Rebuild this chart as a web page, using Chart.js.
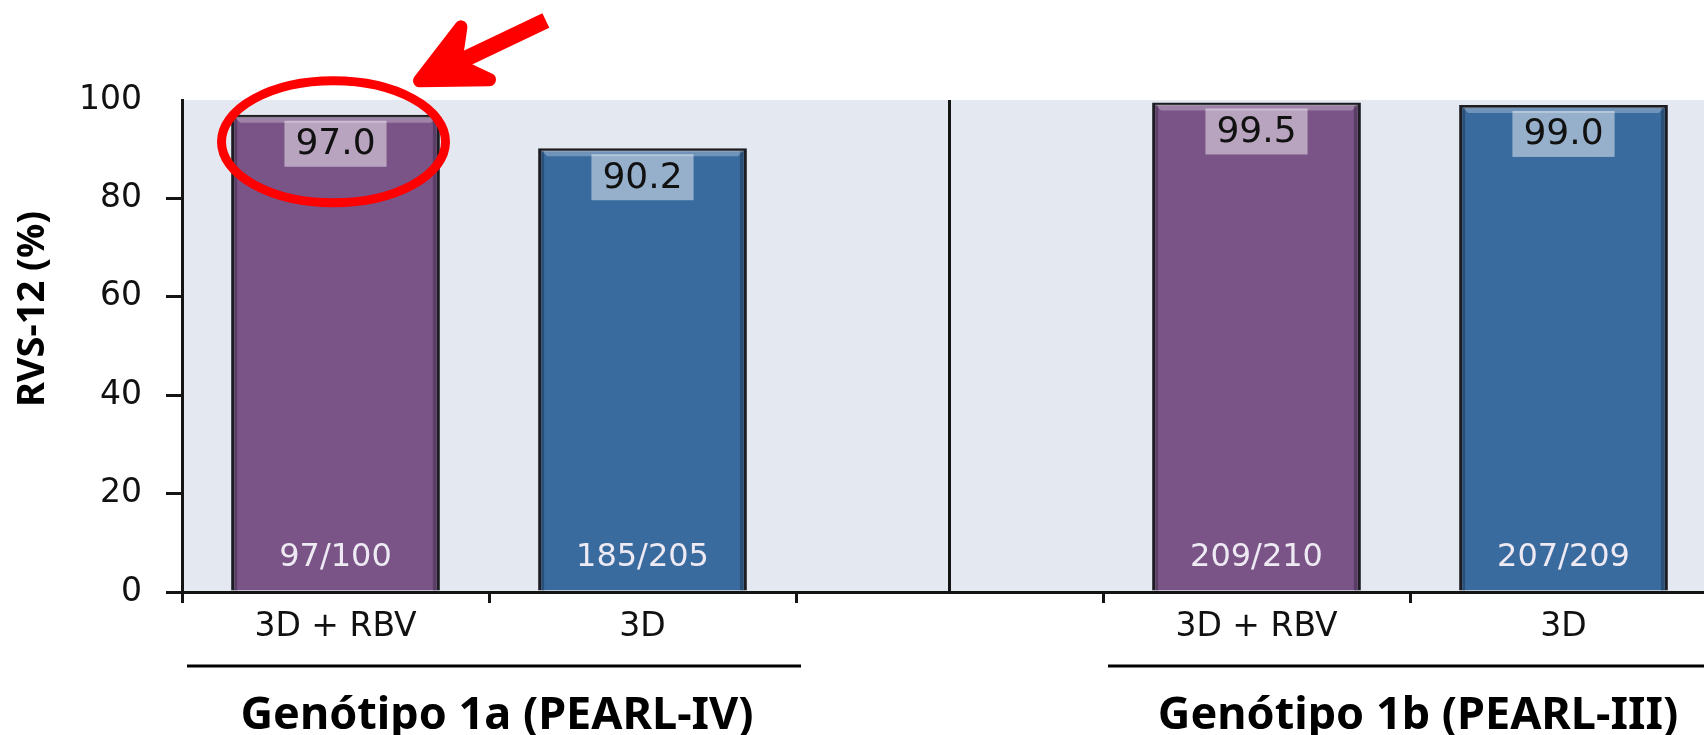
<!DOCTYPE html>
<html>
<head>
<meta charset="utf-8">
<script src="https://cdn.jsdelivr.net/npm/chart.js@4.4.1/dist/chart.umd.min.js"></script>
<style>
  html, body { margin: 0; padding: 0; background: #fff; overflow: hidden; }
  #wrap { width: 1718px; height: 735px; }
</style>
</head>
<body>
<div id="wrap"><canvas id="chart" width="1718" height="735"></canvas></div>
<script>
// --- data ---
const categories = ['3D + RBV', '3D', '', '3D + RBV', '3D'];
const rvsValues = [97.0, 90.2, null, 99.5, 99.0];
const patientCounts = ['97/100', '185/205', '', '209/210', '207/209'];
const barColors = ['#7a5387', '#3a6b9f', '#7a5387', '#7a5387', '#3a6b9f'];
const groupLabels = ['Genótipo 1a (PEARL-IV)', 'Genótipo 1b (PEARL-III)'];
const groupSpans = [[0, 1], [3, 4]];
const yTitle = 'RVS-12 (%)';

const INK = '#141414';

// background, labels, divider and the red marks
const decor = {
  id: 'decor',
  beforeDraw(chart) {
    const { ctx, chartArea: a } = chart;
    ctx.save();
    ctx.fillStyle = '#e4e8f0';
    ctx.fillRect(a.left, a.top, a.right - a.left, a.bottom - a.top);
    // divider in the empty slot
    const x = chart.scales.x.getPixelForValue(2);
    ctx.strokeStyle = INK;
    ctx.lineWidth = 3;
    ctx.beginPath();
    ctx.moveTo(x, a.top);
    ctx.lineTo(x, a.bottom);
    ctx.stroke();
    ctx.restore();
  },
  afterDatasetsDraw(chart) {
    const { ctx, chartArea: a } = chart;
    const bars = chart.getDatasetMeta(0).data;
    const xs = chart.scales.x;
    const cat = (xs.right - xs.left) / categories.length;

    ctx.save();
    bars.forEach((bar, i) => {
      if (rvsValues[i] == null) return;
      const top = Math.max(bar.y, a.top);
      const l = bar.x - bar.width / 2, r = bar.x + bar.width / 2;

      // bevel on top edge
      ctx.fillStyle = 'rgba(255,255,255,0.28)';
      ctx.beginPath();
      ctx.moveTo(l + 3, top + 2);
      ctx.lineTo(r - 3, top + 2);
      ctx.lineTo(r - 9, top + 8);
      ctx.lineTo(l + 9, top + 8);
      ctx.closePath();
      ctx.fill();
      ctx.fillStyle = 'rgba(0,0,0,0.25)';
      ctx.fillRect(r - 7, top + 3, 4, bar.base - top - 3);
      ctx.fillRect(l + 3, top + 3, 3, bar.base - top - 3);

      // value box
      ctx.font = '36px "DejaVu Sans"';
      const txt = rvsValues[i].toFixed(1);
      const w = ctx.measureText(txt).width + 22;
      const boxTop = top + 6;
      ctx.fillStyle = 'rgba(255,255,255,0.47)';
      ctx.fillRect(bar.x - w / 2, boxTop, w, 46);
      ctx.fillStyle = '#111';
      ctx.textAlign = 'center';
      ctx.textBaseline = 'middle';
      ctx.fillText(txt, bar.x, boxTop + 24);

      // patient counts
      ctx.font = '32px "DejaVu Sans"';
      ctx.fillStyle = '#eeeaf4';
      ctx.fillText(patientCounts[i], bar.x, bar.base - 33);
    });

    // y title
    ctx.save();
    ctx.translate(33, 309);
    ctx.rotate(-Math.PI / 2);
    ctx.font = 'bold 38px "Noto Sans"';
    ctx.fillStyle = '#000';
    ctx.textAlign = 'center';
    ctx.textBaseline = 'middle';
    ctx.fillText(yTitle, 0, 0);
    ctx.restore();

    // group rules and labels
    groupSpans.forEach(([s, e], g) => {
      const x0 = xs.getPixelForValue(s) - cat / 2;
      const x1 = xs.getPixelForValue(e) + cat / 2;
      ctx.strokeStyle = '#000';
      ctx.lineWidth = 3;
      ctx.beginPath();
      ctx.moveTo(x0 + 5, 666);
      ctx.lineTo(x1 + 5, 666);
      ctx.stroke();
      ctx.font = 'bold 45px "Noto Sans"';
      ctx.fillStyle = '#000';
      ctx.textAlign = 'center';
      ctx.textBaseline = 'middle';
      ctx.fillText(groupLabels[g], (x0 + x1) / 2 + 8, 716);
    });

    // red ellipse around the first value and arrow pointing at it
    const b0 = bars[0];
    const ex = b0.x - 2, ey = b0.y + 27;
    ctx.strokeStyle = '#ff0000';
    ctx.fillStyle = '#ff0000';
    ctx.lineWidth = 9;
    ctx.beginPath();
    ctx.ellipse(ex, ey, 112, 61, 0, 0, Math.PI * 2);
    ctx.stroke();

    const tip = { x: ex + 86, y: ey - 61 };
    const ang = Math.atan2(-63, 132);
    const tail = { x: tip.x + 140 * Math.cos(ang), y: tip.y + 140 * Math.sin(ang) };
    const barb = (da, len) => ({ x: tip.x + len * Math.cos(ang + da), y: tip.y + len * Math.sin(ang + da) });
    const up = barb(-0.47, 68), lo = barb(0.43, 70);
    const mid = { x: tip.x + 40 * Math.cos(ang), y: tip.y + 40 * Math.sin(ang) };
    ctx.lineWidth = 16;
    ctx.lineCap = 'butt';
    ctx.beginPath();
    ctx.moveTo(mid.x, mid.y);
    ctx.lineTo(tail.x, tail.y);
    ctx.stroke();
    ctx.lineCap = 'round';
    ctx.lineJoin = 'round';
    ctx.lineWidth = 13;
    ctx.beginPath();
    ctx.moveTo(up.x, up.y);
    ctx.lineTo(tip.x, tip.y);
    ctx.lineTo(lo.x, lo.y);
    ctx.lineTo(mid.x, mid.y);
    ctx.closePath();
    ctx.fill();
    ctx.stroke();
    ctx.restore();
  }
};

new Chart(document.getElementById('chart').getContext('2d'), {
  type: 'bar',
  data: {
    labels: categories,
    datasets: [{
      data: rvsValues,
      backgroundColor: barColors,
      borderColor: '#1c1c22',
      borderWidth: 3,
      borderSkipped: 'bottom',
      barPercentage: 0.68,
      categoryPercentage: 1
    }]
  },
  options: {
    animation: false,
    responsive: false,
    devicePixelRatio: 1,
    layout: { padding: { top: 100, left: 0, right: 1, bottom: 93 } },
    plugins: {
      legend: { display: false },
      tooltip: { enabled: false }
    },
    scales: {
      x: {
        z: 1,
        offset: true,
        afterFit: s => { s.height = 50; },
        border: { display: true, color: INK, width: 3 },
        grid: {
          offset: true,
          drawOnChartArea: false,
          tickLength: 11,
          lineWidth: 3,
          color: INK
        },
        ticks: {
          padding: 5,
          color: '#111',
          font: { family: 'DejaVu Sans', size: 33 }
        }
      },
      y: {
        z: 1,
        min: 0,
        max: 100,
        afterFit: s => { s.width = 182; },
        border: { display: true, color: INK, width: 3 },
        grid: {
          drawOnChartArea: false,
          tickLength: 16,
          lineWidth: 3,
          tickColor: c => (c.tick && c.tick.value === 100 ? 'rgba(0,0,0,0)' : INK)
        },
        ticks: {
          stepSize: 20,
          padding: 24,
          color: '#111',
          font: { family: 'DejaVu Sans', size: 33 }
        }
      }
    }
  },
  plugins: [decor]
});
</script>
</body>
</html>
